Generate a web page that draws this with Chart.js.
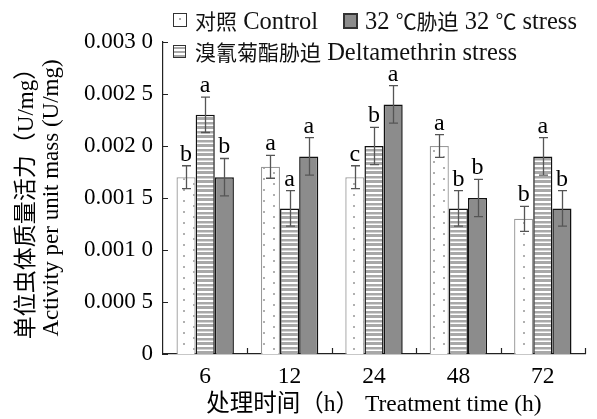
<!DOCTYPE html>
<html>
<head>
<meta charset="utf-8">
<script src="https://cdn.jsdelivr.net/npm/chart.js@4.4.1/dist/chart.umd.min.js"></script>
<style>
  html, body { margin: 0; padding: 0; background: #fff; }
  #wrap { position: relative; width: 597px; height: 419px; overflow: hidden; }
  #c { position: absolute; left: 0; top: 0; }
  .lg { position: absolute; font-family: "Liberation Serif", "Noto Sans CJK SC", serif; font-size: 24.5px; color: #111; white-space: nowrap; line-height: 26px; }
  .lg .cj { font-family: "Noto Sans CJK SC", sans-serif; font-size: 21px; }
  .bx { position: absolute; box-sizing: border-box; }
  .bx.ctrl { width: 14px; height: 14px; border: 1.3px solid #333; background: #fff; }
  .bx.ctrl::after { content: ""; position: absolute; left: 5px; top: 4px; width: 2px; height: 2px; background: #aaa; }
  .bx.heat { width: 15px; height: 16px; border: 2px solid #333; background: #8c8c8c; }
  .bx.delta { width: 13px; height: 13px; border: 1.3px solid #333;
    background: repeating-linear-gradient(to bottom, #fff 0 1px, #a8a8a8 1px 3px, #fff 3px 4px); }
</style>
</head>
<body>
<div id="wrap">
  <canvas id="c" width="597" height="419"></canvas>
  <div class="bx ctrl" style="left:173px;top:13px"></div>
  <div class="lg" style="left:195px;top:7px"><span class="cj">对照</span> Control</div>
  <div class="bx heat" style="left:343px;top:13px"></div>
  <div class="lg" style="left:365px;top:7px">32 <span class="cj">℃胁迫</span> 32 <span class="cj">℃</span> stress</div>
  <div class="bx delta" style="left:173px;top:45px"></div>
  <div class="lg" style="left:195px;top:38px"><span class="cj">溴氰菊酯胁迫</span> Deltamethrin stress</div>
</div>
<script>
// Treatment time points (h)
const timePoints = ['6', '12', '24', '48', '72'];

// Mean activity per unit mass (U/mg) and standard errors
const controlMean = [0.0017, 0.0018, 0.0017, 0.0020, 0.0013];
const controlErr  = [0.00011, 0.00011, 0.00011, 0.00011, 0.00012];
const deltaMean   = [0.0023, 0.0014, 0.0020, 0.0014, 0.0019];
const deltaErr    = [0.00017, 0.00017, 0.00018, 0.00017, 0.00018];
const heatMean    = [0.0017, 0.0019, 0.0024, 0.0015, 0.0014];
const heatErr     = [0.00018, 0.00018, 0.00018, 0.00018, 0.00017];

// Significance letters
const controlSig = ['b', 'a', 'c', 'a', 'b'];
const deltaSig   = ['a', 'a', 'b', 'b', 'a'];
const heatSig    = ['b', 'a', 'a', 'b', 'b'];

// Y tick labels
const yTickLabels = ['0', '0.000 5', '0.001 0', '0.001 5', '0.002 0', '0.002 5', '0.003 0'];

const FONT = '"Liberation Serif", "Noto Sans CJK SC", serif';

function dotPattern() {
  const c = document.createElement('canvas');
  c.width = 20; c.height = 11;
  const g = c.getContext('2d');
  g.fillStyle = '#fff'; g.fillRect(0, 0, 20, 11);
  g.fillStyle = '#b0b0b0';
  g.fillRect(3, 2, 2, 2);
  g.fillRect(13, 7, 2, 2);
  return g.createPattern(c, 'repeat');
}

function stripePattern() {
  const c = document.createElement('canvas');
  c.width = 4; c.height = 9;
  const g = c.getContext('2d');
  g.fillStyle = '#fff'; g.fillRect(0, 0, 4, 9);
  g.fillStyle = '#a8a8a8';
  g.fillRect(0, 0, 4, 3);
  g.fillRect(0, 5, 4, 2.5);
  return g.createPattern(c, 'repeat');
}

// Error bars with significance letters above them
const errorBars = {
  id: 'errorBars',
  afterDatasetsDraw(chart) {
    const ctx = chart.ctx;
    const y = chart.scales.y;
    chart.data.datasets.forEach((ds, di) => {
      const meta = chart.getDatasetMeta(di);
      meta.data.forEach((bar, i) => {
        const v = ds.data[i], e = ds.errors[i];
        const top = y.getPixelForValue(v + e);
        const bot = y.getPixelForValue(v - e);
        const x = Math.round(bar.x) + 0.5;
        ctx.save();
        ctx.strokeStyle = '#555';
        ctx.lineWidth = 1.3;
        ctx.beginPath();
        ctx.moveTo(x, top); ctx.lineTo(x, bot);
        ctx.moveTo(x - 4.5, top); ctx.lineTo(x + 4.5, top);
        ctx.moveTo(x - 4.5, bot); ctx.lineTo(x + 4.5, bot);
        ctx.stroke();
        ctx.fillStyle = '#000';
        ctx.font = '24px ' + FONT;
        ctx.textAlign = 'center';
        ctx.textBaseline = 'alphabetic';
        ctx.fillText(ds.sig[i], bar.x, top - 5);
        ctx.restore();
      });
    });
  }
};

// Short tick marks pointing into the plot
const inwardTicks = {
  id: 'inwardTicks',
  afterDraw(chart) {
    const { ctx, chartArea: a, scales: { x, y } } = chart;
    ctx.save();
    ctx.strokeStyle = '#222';
    ctx.lineWidth = 1.2;
    ctx.beginPath();
    y.ticks.forEach(t => {
      const py = Math.round(y.getPixelForValue(t.value)) + 0.5;
      ctx.moveTo(a.left, py); ctx.lineTo(a.left + 5, py);
    });
    for (let i = 0; i < timePoints.length; i++) {
      const px = Math.round(x.getPixelForValue(i + 0.5)) + 0.5;
      ctx.moveTo(px, a.bottom); ctx.lineTo(px, a.bottom - 6);
    }
    ctx.stroke();
    ctx.restore();
  }
};

new Chart(document.getElementById('c'), {
  type: 'bar',
  data: {
    labels: timePoints,
    datasets: [
      { label: '对照 Control', data: controlMean, errors: controlErr, sig: controlSig,
        backgroundColor: dotPattern(), borderColor: '#9a9a9a', borderWidth: 1.3 },
      { label: '溴氰菊酯胁迫 Deltamethrin stress', data: deltaMean, errors: deltaErr, sig: deltaSig,
        backgroundColor: stripePattern(), borderColor: '#111', borderWidth: 1.5 },
      { label: '32 ℃胁迫 32 ℃ stress', data: heatMean, errors: heatErr, sig: heatSig,
        backgroundColor: '#8c8c8c', borderColor: '#111', borderWidth: 1.5 }
    ]
  },
  options: {
    responsive: false,
    animation: false,
    devicePixelRatio: 1,
    layout: { padding: { left: 0, top: 42, right: 12, bottom: 0 } },
    datasets: { bar: { barPercentage: 1, categoryPercentage: 0.68 } },
    plugins: { legend: { display: false }, tooltip: { enabled: false } },
    scales: {
      x: {
        grid: { display: false, drawTicks: false },
        border: { display: true, color: '#222', width: 1.2 },
        ticks: { padding: 9, color: '#000', font: { family: FONT, size: 23.5 } },
        title: { display: true, text: '处理时间（h） Treatment time (h)', color: '#000',
                 font: { family: FONT, size: 23.5, lineHeight: 1.2 }, padding: { top: 0, bottom: 0 } },
        afterFit(s) { s.height = 65; }
      },
      y: {
        min: 0, max: 0.003,
        grid: { display: false, drawTicks: false },
        border: { display: true, color: '#222', width: 1.2 },
        ticks: { stepSize: 0.0005, padding: 10, color: '#000', font: { family: FONT, size: 23 },
                 callback: (v, i) => yTickLabels[i] },
        title: { display: true, text: ['单位虫体质量活力（U/mg）', 'Activity per unit mass (U/mg)'], color: '#000',
                 font: { family: FONT, size: 23, lineHeight: 1.1 }, padding: { top: 14, bottom: 0 } },
        afterFit(s) { s.width = 163; }
      }
    }
  },
  plugins: [errorBars, inwardTicks]
});
</script>
</body>
</html>
